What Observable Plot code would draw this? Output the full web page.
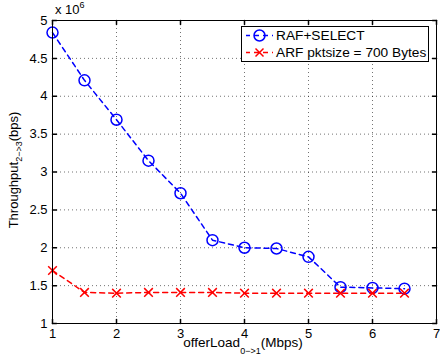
<!DOCTYPE html>
<html><head><meta charset="utf-8">
<script src="https://cdn.jsdelivr.net/npm/d3@7"></script>
<script src="https://cdn.jsdelivr.net/npm/@observablehq/plot@0.6"></script>
<style>body{margin:0;background:#fff}</style>
</head><body><div id="chart"></div>
<script>
const offerLoad = [1, 1.5, 2, 2.5, 3, 3.5, 4, 4.5, 5, 5.5, 6, 6.5];
const rafSelect = [4.84, 4.21, 3.69, 3.15, 2.72, 2.10, 2.00, 1.99, 1.88, 1.48, 1.47, 1.46];
const arf = [1.70, 1.41, 1.40, 1.41, 1.41, 1.41, 1.40, 1.40, 1.40, 1.40, 1.40, 1.40];
const xTicks = [1, 2, 3, 4, 5, 6, 7];
const yTicks = [1, 1.5, 2, 2.5, 3, 3.5, 4, 4.5, 5];
const seriesNames = ["RAF+SELECT", "ARF pktsize = 700 Bytes"];
const colors = ["#0000ff", "#ff0000"];

const rafData = offerLoad.map((x, i) => ({x, y: rafSelect[i]}));
const arfData = offerLoad.map((x, i) => ({x, y: arf[i]}));

const tickShape = {draw(ctx, l) { ctx.moveTo(0, 0); ctx.lineTo(0, -l); }};
const gridStyle = {stroke: "#000", strokeOpacity: 0.55, strokeDasharray: "1,3"};
const tickStyle = {length: 4, anchor: "start", shape: tickShape, stroke: "#000"};

const plot = Plot.plot({
  width: 440, height: 364,
  marginTop: 20, marginRight: 4, marginBottom: 41, marginLeft: 52,
  style: {fontFamily: "'Liberation Sans', Arial, sans-serif", fontSize: "13px", background: "#fff", color: "#000"},
  x: {domain: [1, 7]},
  y: {domain: [1, 5]},
  marks: [
    Plot.gridX(xTicks, gridStyle),
    Plot.gridY(yTicks, gridStyle),
    Plot.axisX(xTicks, {tickSize: 0, tickPadding: 5, label: null, tickFormat: d => String(d)}),
    Plot.axisY(yTicks, {tickSize: 0, tickPadding: 5, label: null, tickFormat: d => String(d)}),
    Plot.vector(xTicks, {x: d => d, frameAnchor: "bottom", rotate: 0, ...tickStyle}),
    Plot.vector(xTicks, {x: d => d, frameAnchor: "top", rotate: 180, ...tickStyle}),
    Plot.vector(yTicks, {y: d => d, frameAnchor: "left", rotate: 90, ...tickStyle}),
    Plot.vector(yTicks, {y: d => d, frameAnchor: "right", rotate: -90, ...tickStyle}),
    Plot.line(rafData, {x: "x", y: "y", stroke: colors[0], strokeWidth: 1.5, strokeDasharray: "5,4"}),
    Plot.dot(rafData, {x: "x", y: "y", r: 5.5, stroke: colors[0], strokeWidth: 1.5, fill: "none"}),
    Plot.line(arfData, {x: "x", y: "y", stroke: colors[1], strokeWidth: 1.5, strokeDasharray: "5,4"}),
    Plot.dot(arfData, {x: "x", y: "y", r: 4, symbol: "times", stroke: colors[1], strokeWidth: 1.5}),
    Plot.frame({stroke: "#000"})
  ]
});
document.getElementById("chart").appendChild(plot);

const svg = d3.select(plot);
const font = "'Liberation Sans', Arial, sans-serif";
// exponent
const ex = svg.append("text").attr("x", 55).attr("y", 14).attr("text-anchor", "start")
  .attr("font-size", 13).attr("font-family", font).attr("fill", "#000");
ex.append("tspan").text("x 10");
ex.append("tspan").attr("dy", -6).attr("font-size", 9).text("6");
// y label
const yl = svg.append("text").attr("transform", "translate(18,170) rotate(-90)").attr("text-anchor", "middle")
  .attr("font-size", 13).attr("font-family", font).attr("fill", "#000");
yl.append("tspan").text("Throughput");
yl.append("tspan").attr("dy", 4).attr("font-size", 9).text("2−>3");
yl.append("tspan").attr("dy", -4).text("(bps)");
// x label
const xl = svg.append("text").attr("transform", "translate(243,347)").attr("text-anchor", "middle")
  .attr("font-size", 13.5).attr("font-family", font).attr("fill", "#000");
xl.append("tspan").text("offerLoad");
xl.append("tspan").attr("dy", 7).attr("font-size", 9).text("0−>1");
xl.append("tspan").attr("dy", -7).text("(Mbps)");
// legend
const lg = svg.append("g");
lg.append("rect").attr("x", 241.5).attr("y", 26.5).attr("width", 187).attr("height", 35)
  .attr("fill", "#fff").attr("stroke", "#000");
seriesNames.forEach((name, i) => {
  const cy = 35.5 + i * 17;
  lg.append("line").attr("x1", 246).attr("x2", 273).attr("y1", cy).attr("y2", cy)
    .attr("stroke", colors[i]).attr("stroke-width", 1.5).attr("stroke-dasharray", "5,4").attr("stroke-dashoffset", 1);
  if (i === 0) {
    lg.append("circle").attr("cx", 259.5).attr("cy", cy).attr("r", 5.5).attr("fill", "none")
      .attr("stroke", colors[i]).attr("stroke-width", 1.5);
  } else {
    lg.append("path").attr("d", `M${259.5-4},${cy-4}L${259.5+4},${cy+4}M${259.5-4},${cy+4}L${259.5+4},${cy-4}`)
      .attr("stroke", colors[i]).attr("stroke-width", 1.5);
  }
  lg.append("text").attr("x", 276).attr("y", cy + 4.8).attr("text-anchor", "start").attr("font-size", 13.7).attr("font-family", font)
    .attr("fill", "#000").text(name);
});
</script>
</body></html>
